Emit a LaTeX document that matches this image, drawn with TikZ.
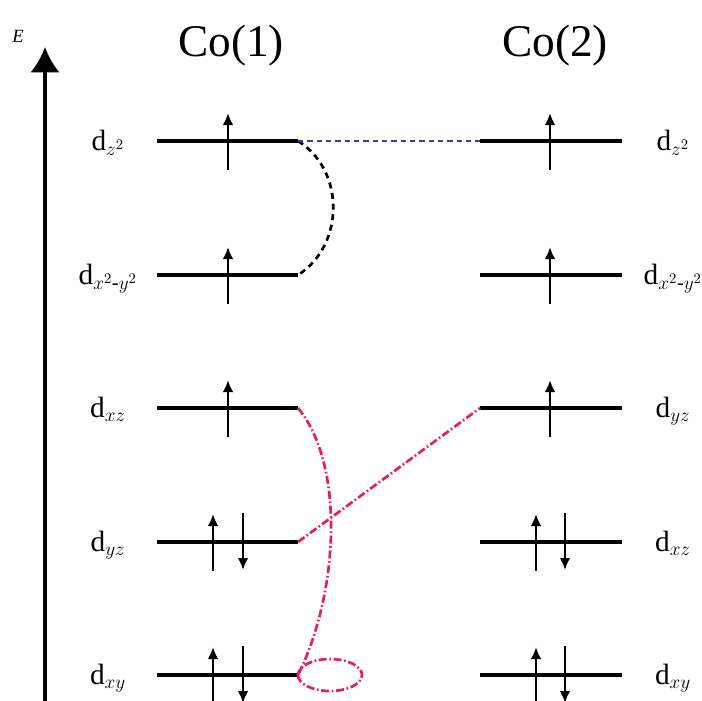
\documentclass[tikz,border=0pt]{standalone}
\usepackage{amsmath}
\usepackage{fontspec}
\setmainfont{Liberation Serif}
\usetikzlibrary{arrows.meta}
\definecolor{pairred}{RGB}{232,28,88}
\definecolor{pairblue}{RGB}{60,60,170}
\begin{document}
\begin{tikzpicture}[x=0.75pt,y=-0.75pt,
    level/.style={line width=2.4pt},
    spin/.style={line width=2.2pt,-{Latex[length=9pt,width=8pt]}},
    orb/.style={font=\fontsize{22}{24}\selectfont,anchor=base,inner sep=0pt},
    site/.style={font=\fontsize{34}{38}\selectfont,anchor=base,inner sep=0pt},
    blackpair/.style={line width=2pt,dash pattern=on 4.5pt off 3.5pt},
    bluepair/.style={pairblue,line width=1.8pt,dash pattern=on 4pt off 3pt},
    redpair/.style={pairred,line width=2pt,dash pattern=on 6pt off 2pt on 1.2pt off 2pt}]
    \useasboundingbox (0,0) rectangle (702,700);
    % energy axis
    \coordinate (axis0) at (45,710);
    \coordinate (axis1) at (45,47);
    \draw[line width=2.6pt,-{Latex[length=19pt,width=22pt]}] (axis0) -- (axis1);
    \node[font=\fontsize{14}{16}\selectfont\itshape,anchor=base,inner sep=0pt] (E) at (18,42) {E};
    \node[site] (co1) at (231,56) {Co(1)};
    \node[site] (co2) at (555,56) {Co(2)};
    % levels
    \foreach \n/\y in {1/141,2/275,3/408,4/542,5/675}{
        \coordinate (L\n w) at (157,\y);
        \coordinate (L\n e) at (298,\y);
        \coordinate (R\n w) at (480,\y);
        \coordinate (R\n e) at (622,\y);
        \draw[level] (L\n w) -- (L\n e);
        \draw[level] (R\n w) -- (R\n e);
    }
    % electrons
    \foreach \y in {141,275,408}{
        \draw[spin] (228,\y+29) -- (228,\y-28);
        \draw[spin] (550,\y+29) -- (550,\y-28);
    }
    \foreach \y in {542,675}{
        \draw[spin] (213,\y+29) -- (213,\y-28);
        \draw[spin] (243,\y-29) -- (243,\y+28);
        \draw[spin] (536,\y+29) -- (536,\y-28);
        \draw[spin] (565,\y-29) -- (565,\y+28);
    }
    % labels
    \node[orb] (l1) at (108,150) {$\mathrm{d}_{z^2}$};
    \node[orb] (l2) at (108,284) {$\mathrm{d}_{x^2\text{-}y^2}$};
    \node[orb] (l3) at (108,417) {$\mathrm{d}_{xz}$};
    \node[orb] (l4) at (108,551) {$\mathrm{d}_{yz}$};
    \node[orb] (l5) at (108,684) {$\mathrm{d}_{xy}$};
    \node[orb] (r1) at (673,150) {$\mathrm{d}_{z^2}$};
    \node[orb] (r2) at (673,284) {$\mathrm{d}_{x^2\text{-}y^2}$};
    \node[orb] (r3) at (673,417) {$\mathrm{d}_{yz}$};
    \node[orb] (r4) at (673,551) {$\mathrm{d}_{xz}$};
    \node[orb] (r5) at (673,684) {$\mathrm{d}_{xy}$};
    % couplings
    \draw[blackpair] (L1e) .. controls +(47,29) and +(47,-30) .. (L2e);
    \draw[bluepair] (L1e) -- (R1w);
    \draw[redpair] (L3e) .. controls +(48,58) and +(40,-80) .. (L5e);
    \draw[redpair] (L4e) -- (R3w);
    \draw[redpair] (L5e) arc[start angle=180, end angle=-180, x radius=32, y radius=16];
\end{tikzpicture}
\end{document}
